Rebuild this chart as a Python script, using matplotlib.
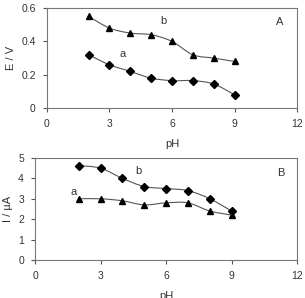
import matplotlib
matplotlib.use("Agg")
import matplotlib.pyplot as plt
import numpy as np
from matplotlib.path import Path
from matplotlib.patches import PathPatch

ph = [2, 3, 4, 5, 6, 7, 8, 9]
E_a = [0.32, 0.26, 0.22, 0.18, 0.165, 0.165, 0.145, 0.08]
E_b = [0.55, 0.48, 0.45, 0.44, 0.40, 0.32, 0.30, 0.28]
I_a = [3.0, 3.0, 2.9, 2.7, 2.8, 2.8, 2.4, 2.2]
I_b = [4.62, 4.5, 4.0, 3.6, 3.5, 3.4, 3.0, 2.4]

plt.rcParams['font.family'] = ['Liberation Sans', 'DejaVu Sans']
fig = plt.figure(figsize=(3.05, 2.98), dpi=100)

def smooth(ax, x, y):
    x = np.asarray(x, float); y = np.asarray(y, float)
    verts = [(x[0], y[0])]; codes = [Path.MOVETO]
    n = len(x)
    for i in range(n - 1):
        p0 = (x[max(i-1, 0)], y[max(i-1, 0)])
        p1 = (x[i], y[i]); p2 = (x[i+1], y[i+1])
        p3 = (x[min(i+2, n-1)], y[min(i+2, n-1)])
        t = 1/6
        c1 = (p1[0] + (p2[0]-p0[0])*t, p1[1] + (p2[1]-p0[1])*t)
        c2 = (p2[0] - (p3[0]-p1[0])*t, p2[1] - (p3[1]-p1[1])*t)
        verts += [c1, c2, p2]; codes += [Path.CURVE4]*3
    ax.add_patch(PathPatch(Path(verts, codes), fill=False, lw=0.8, color='#555555'))

def style(ax, ylim, yticks, ylabel):
    ax.set_xlim(0, 12); ax.set_ylim(*ylim)
    ax.set_xticks([0, 3, 6, 9, 12]); ax.set_yticks(yticks)
    for s in ax.spines.values():
        s.set_color('#777777'); s.set_linewidth(0.8)
    ax.tick_params(direction='out', length=3, width=0.8, color='#555555',
                   labelsize=7.5, labelcolor='#333333', pad=5)
    ax.set_xlabel('pH', fontsize=8, color='#333333', labelpad=7)
    ax.set_ylabel(ylabel, fontsize=8, color='#333333', labelpad=4)

ax1 = fig.add_axes([0.154, 0.637, 0.82, 0.336])
smooth(ax1, ph, E_b); smooth(ax1, ph, E_a)
ax1.plot(ph, E_b, ls='none', marker='^', ms=5, color='black')
ax1.plot(ph, E_a, ls='none', marker='D', ms=4, color='black')
style(ax1, (0, 0.6), [0, 0.2, 0.4, 0.6], 'E / V')
ax1.set_yticklabels(['0', '0.2', '0.4', '0.6'])
ax1.text(5.45, 0.505, 'b', fontsize=8, color='#333333')
ax1.text(3.5, 0.305, 'a', fontsize=8, color='#333333')
ax1.text(11.0, 0.5, 'A', fontsize=8, color='#333333')

ax2 = fig.add_axes([0.115, 0.1275, 0.859, 0.3425])
smooth(ax2, ph, I_b); smooth(ax2, ph, I_a)
ax2.plot(ph, I_b, ls='none', marker='D', ms=4, color='black')
ax2.plot(ph, I_a, ls='none', marker='^', ms=5, color='black')
style(ax2, (0, 5), [0, 1, 2, 3, 4, 5], 'I / µA')
ax2.text(4.6, 4.2, 'b', fontsize=8, color='#333333')
ax2.text(1.6, 3.2, 'a', fontsize=8, color='#333333')
ax2.text(11.1, 4.1, 'B', fontsize=8, color='#333333')

fig.savefig('out.png', dpi=100)
